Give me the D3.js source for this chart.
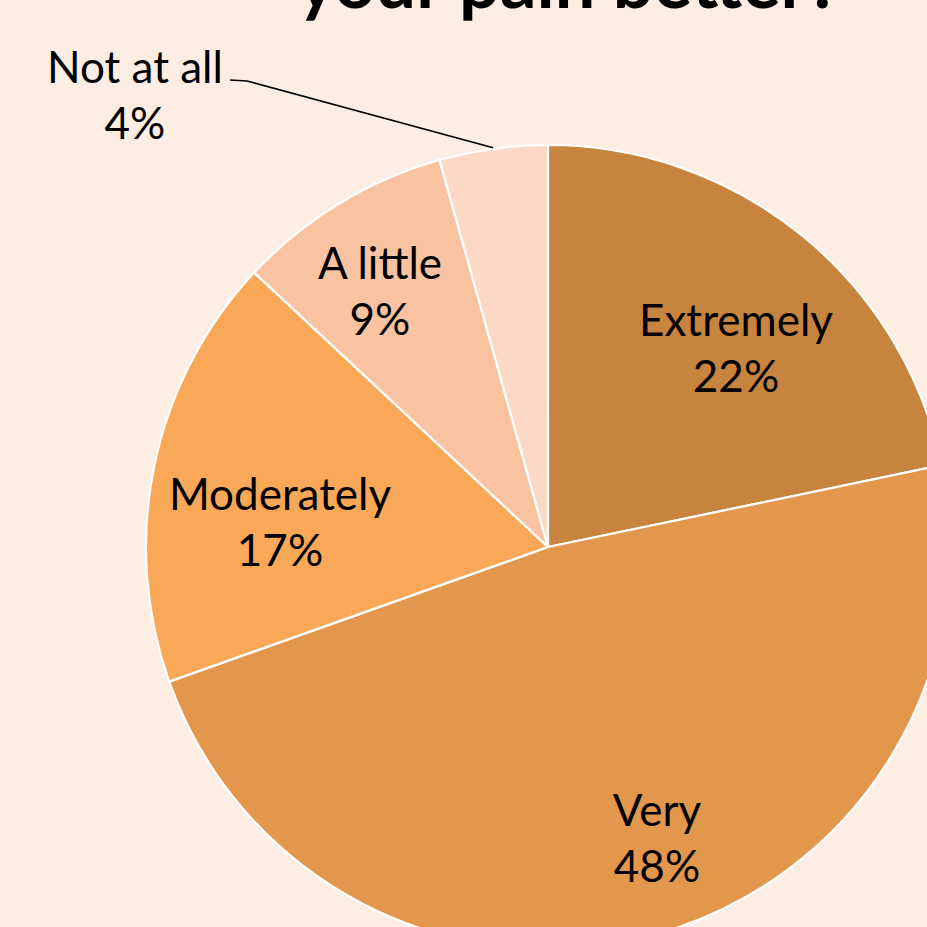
<!DOCTYPE html>
<html>
<head>
<meta charset="utf-8">
<script src="https://cdn.jsdelivr.net/npm/d3@7"></script>
<style>
  html, body { margin: 0; padding: 0; background: #FDEDE2; overflow: hidden; }
  svg { display: block; }
</style>
</head>
<body>
<svg id="chart" width="927" height="927"></svg>
<script>
// ---- data ----
const categories = ["Extremely", "Very", "Moderately", "A little", "Not at all"];
const counts = [5, 11, 4, 2, 1];           // responses (n = 23)
const percentLabels = ["22%", "48%", "17%", "9%", "4%"];
const colors = ["#C7843F", "#E2974D", "#F9A857", "#F9C3A1", "#FCD8C6"];
const titleText = "your pain better?";

// ---- layout ----
const W = 927, H = 927;
const cx = 548, cy = 547, R = 402;
const svg = d3.select("#chart");
svg.append("rect").attr("width", W).attr("height", H).attr("fill", "#FDEDE2");

const pie = d3.pie().sort(null).value(d => d);
const arcs = pie(counts);
const arc = d3.arc().innerRadius(0).outerRadius(R);

const g = svg.append("g").attr("transform", `translate(${cx},${cy})`);
g.selectAll("path").data(arcs).join("path")
  .attr("d", arc)
  .attr("fill", (d, i) => colors[i])
  .attr("stroke", "#FFFFFF")
  .attr("stroke-width", 2.2)
  .attr("stroke-linejoin", "round");

const labelFont = "Lato, 'Open Sans', sans-serif";
const fs = 44;
const lineGap = 56;

// text centres / first-line baselines
const labelAt = [[736, 336], [657, 826], [280, 510], [380, 279], [135, 83]];

const labels = svg.append("g");
arcs.forEach((d, i) => {
  const [x, y] = labelAt[i];
  const t = labels.append("text")
    .attr("x", x).attr("y", y)
    .attr("text-anchor", "middle")
    .attr("font-family", labelFont)
    .attr("font-size", fs)
    .attr("fill", "#000");
  t.append("tspan").attr("x", x).attr("dy", 0).text(categories[i]);
  t.append("tspan").attr("x", x).attr("dy", lineGap).text(percentLabels[i]);
});

// leader line for "Not at all"
const nd = arcs[4];
const na = (nd.startAngle + nd.endAngle) / 2;
const edge = [cx + Math.sin(na) * (R + 1), cy - Math.cos(na) * (R + 1)];
svg.append("path")
  .attr("d", d3.line()([[230, 80], [247, 81], edge]))
  .attr("fill", "none")
  .attr("stroke", "#000")
  .attr("stroke-width", 1.6);

// title (clipped at top, as in the reference)
svg.append("text")
  .attr("x", 569).attr("y", 8)
  .attr("text-anchor", "middle")
  .attr("font-family", "Lato, 'Open Sans', sans-serif")
  .attr("font-weight", "bold")
  .attr("font-size", 72)
  .attr("fill", "#000")
  .text(titleText);
</script>
</body>
</html>
